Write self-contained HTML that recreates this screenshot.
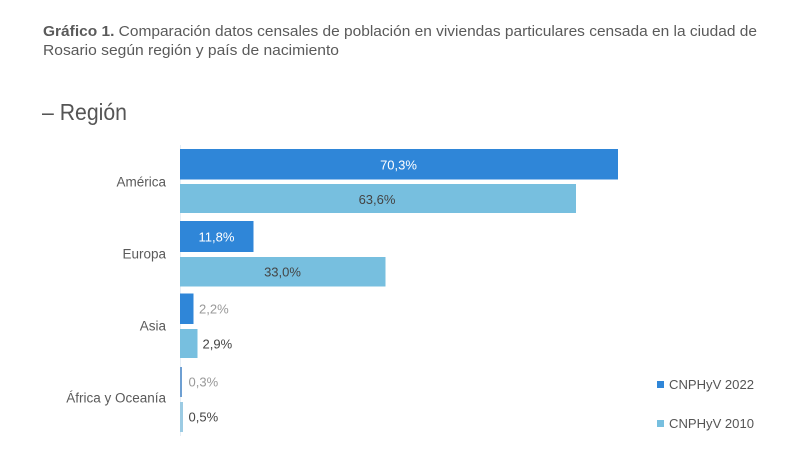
<!DOCTYPE html>
<html><head><meta charset="utf-8"><style>
html,body{margin:0;padding:0;background:#fff;}
svg{display:block;}
text{font-family:"Liberation Sans",Arial,sans-serif;}
</style></head><body>
<svg width="798" height="460" viewBox="0 0 798 460" xmlns="http://www.w3.org/2000/svg">
<rect width="798" height="460" fill="#fff"/>
<text x="43" y="36" font-size="14.5" fill="#5a5a5a" textLength="714" lengthAdjust="spacingAndGlyphs"><tspan font-weight="bold">Gráfico 1.</tspan> Comparación datos censales de población en viviendas particulares censada en la ciudad de</text>
<text x="43" y="55" font-size="14.5" fill="#5a5a5a" textLength="296" lengthAdjust="spacingAndGlyphs">Rosario según región y país de nacimiento</text>
<text x="42" y="120" font-size="23" fill="#555" textLength="85" lengthAdjust="spacingAndGlyphs">– Región</text>

<line x1="180.5" y1="145" x2="180.5" y2="436" stroke="#e6eef5" stroke-width="1"/>

<!-- bars -->
<rect x="180" y="149" width="438" height="30.5" fill="#2f86d8"/>
<rect x="180" y="184" width="396" height="29" fill="#77bfdf"/>
<rect x="180" y="221" width="73.5" height="31" fill="#2f86d8"/>
<rect x="180" y="257" width="205.5" height="29.5" fill="#77bfdf"/>
<rect x="180" y="293.5" width="13.5" height="30.5" fill="#2f86d8"/>
<rect x="180" y="329" width="17.5" height="29" fill="#77bfdf"/>
<rect x="180" y="367" width="2" height="30" fill="#6e9fd2"/>
<rect x="180" y="402" width="3" height="30" fill="#9ccbe3"/>

<!-- bar labels -->
<g font-size="13" text-anchor="middle">
<text x="398.5" y="169.5" fill="#fff">70,3%</text>
<text x="377" y="204" fill="#444">63,6%</text>
<text x="216.5" y="241.5" fill="#fff">11,8%</text>
<text x="282.5" y="276.5" fill="#444">33,0%</text>
</g>
<g font-size="13">
<text x="199" y="313.5" fill="#999">2,2%</text>
<text x="202.5" y="348.5" fill="#444">2,9%</text>
<text x="188.5" y="386.5" fill="#999">0,3%</text>
<text x="188.5" y="421.5" fill="#444">0,5%</text>
</g>

<!-- category labels -->
<g font-size="13.5" fill="#5a5a5a" text-anchor="end">
<text x="166" y="186.5">América</text>
<text x="166" y="258.5">Europa</text>
<text x="166" y="330.5">Asia</text>
<text x="166" y="402.5">África y Oceanía</text>
</g>

<!-- legend -->
<rect x="657" y="381" width="7" height="7" fill="#2f86d8"/>
<text x="669" y="389" font-size="13" fill="#555" textLength="85" lengthAdjust="spacingAndGlyphs">CNPHyV 2022</text>
<rect x="657" y="420" width="7" height="7" fill="#77bfdf"/>
<text x="669" y="428" font-size="13" fill="#555" textLength="85" lengthAdjust="spacingAndGlyphs">CNPHyV 2010</text>
</svg>
</body></html>
